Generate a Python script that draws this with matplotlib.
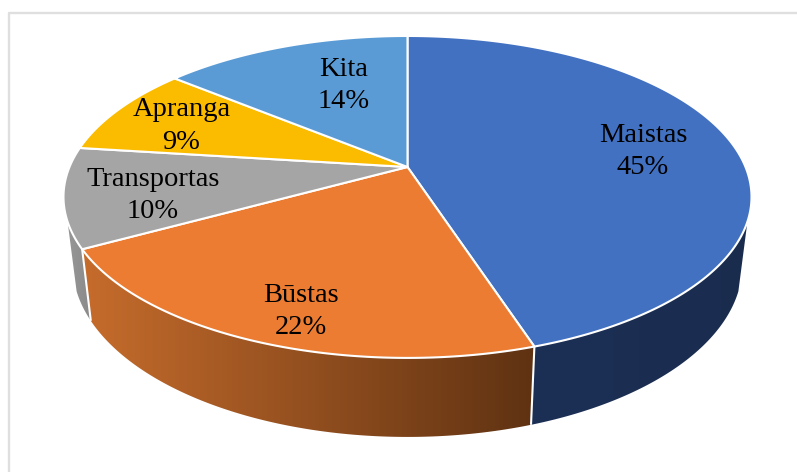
import numpy as np
import matplotlib
matplotlib.use("Agg")
import matplotlib.pyplot as plt
from matplotlib.patches import Polygon
from matplotlib.colors import to_rgb

categories = ["Maistas", "Būstas", "Transportas", "Apranga", "Kita"]
values = [45, 22, 10, 9, 14]
top_colors = ["#4271C2", "#EB7C31", "#A5A5A5", "#FBBC00", "#5B9BD5"]
wall_left = ["#1C3056", "#C66C2C", "#969696", None, None]
wall_right = ["#1A2C4E", "#5F3212", "#8A8A8A", None, None]
label_pos = [(643, 151.5), (301, 311.5), (153, 195.5), (181.5, 126), (343.5, 85.5)]

W, H = 797, 472
CX, K = 407.5, 0.186
TOP = dict(A=338.0, B=155.4, cy=167.0)
LOW = dict(A=329.0, B=166.0, cy=233.0)
VISIBLE_V = 0.33


def project(frac, ring):
    th = 2 * np.pi * np.asarray(frac)
    u, v = np.sin(th), -np.cos(th)
    d = 1 - K * v
    return CX + ring["A"] * u / d, ring["cy"] + ring["B"] * v / d


fig = plt.figure(figsize=(W / 100, H / 100), dpi=100)
ax = fig.add_axes([0, 0, 1, 1])
ax.axis("off")

ax.plot([9, 9, W], [H, 12.5, 12.5], color="#DFDFDF", lw=1.7, zorder=1)

edges = np.concatenate([[0], np.cumsum(values)]) / np.sum(values)
wall_from = np.arccos(-VISIBLE_V) / (2 * np.pi)
wall_to = 1 - wall_from

# side walls: horizontal gradient clipped to the wall outline
for i in range(len(values)):
    a, b = max(edges[i], wall_from), min(edges[i + 1], wall_to)
    if a >= b or wall_left[i] is None:
        continue
    f = np.linspace(a, b, 200)
    xt, yt = project(f, TOP)
    xl, yl = project(f, LOW)
    outline = np.column_stack([np.r_[xt, xl[::-1]], np.r_[yt, yl[::-1]]])
    c0, c1 = np.array(to_rgb(wall_left[i])), np.array(to_rgb(wall_right[i]))
    grad = np.linspace(0, 1, 256)[None, :, None] * (c1 - c0) + c0
    x0, x1 = outline[:, 0].min(), outline[:, 0].max()
    y0, y1 = outline[:, 1].min(), outline[:, 1].max()
    im = ax.imshow(grad, extent=[x0, x1, y1, y0], aspect="auto", zorder=2, interpolation="bilinear")
    clip = Polygon(outline, closed=True, transform=ax.transData, fc="none", ec="none")
    ax.add_patch(clip)
    im.set_clip_path(clip)

# white seams on the wall at slice boundaries
for e in edges[1:-1]:
    if wall_from < e < wall_to:
        xt, yt = project(e, TOP)
        xl, yl = project(e, LOW)
        ax.plot([xt, xl], [yt, yl], color="white", lw=1.5, zorder=3, solid_capstyle="butt")

# top faces
for i, lab in enumerate(categories):
    f = np.linspace(edges[i], edges[i + 1], 200)
    x, y = project(f, TOP)
    pts = np.column_stack([np.r_[CX, x], np.r_[TOP["cy"], y]])
    ax.add_patch(Polygon(pts, closed=True, fc=top_colors[i], ec="white", lw=1.5, joinstyle="round", zorder=4))
    px, py = label_pos[i]
    ax.text(px, py, f"{lab}\n{values[i]}%", ha="center", va="center", color="black",
            fontfamily="Liberation Serif", fontsize=20.5, linespacing=1.37, zorder=5)

ax.set_xlim(0, W)
ax.set_ylim(H, 0)
fig.savefig("out.png", dpi=100)
